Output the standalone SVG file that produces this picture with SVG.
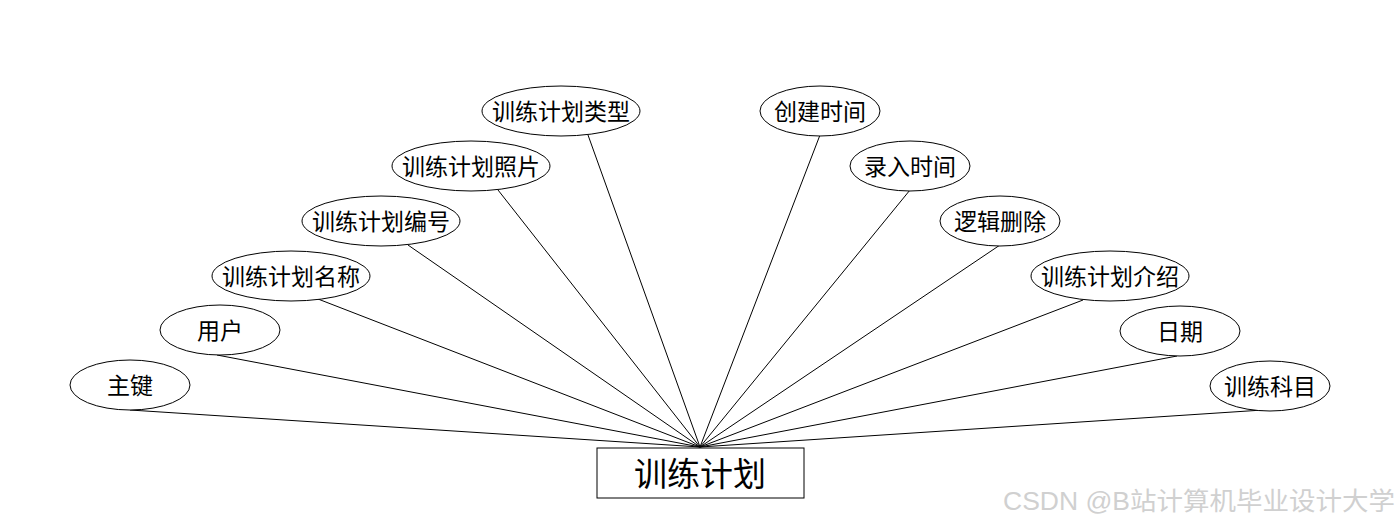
<svg xmlns="http://www.w3.org/2000/svg" width="1400" height="528" viewBox="0 0 1400 528">
<style>
.e{fill:#fff;stroke:#000;stroke-width:1}
.t{font-family:"Microsoft YaHei","Noto Sans CJK SC",sans-serif;font-size:23px;fill:#000;text-anchor:middle;dominant-baseline:central}
.c line{stroke:#000;stroke-width:1}
</style>
<rect width="1400" height="528" fill="#fff"/>
<g class="c" id="connectors">
<line x1="130" y1="410" x2="700" y2="447"/>
<line x1="217" y1="355" x2="700" y2="447"/>
<line x1="318" y1="299" x2="700" y2="447"/>
<line x1="408" y1="245" x2="700" y2="447"/>
<line x1="498" y1="190" x2="700" y2="447"/>
<line x1="588" y1="135" x2="700" y2="447"/>
<line x1="820" y1="135" x2="700" y2="447"/>
<line x1="910" y1="190" x2="700" y2="447"/>
<line x1="1000" y1="245" x2="700" y2="447"/>
<line x1="1083" y1="300" x2="700" y2="447"/>
<line x1="1177" y1="356" x2="700" y2="447"/>
<line x1="1263" y1="410" x2="700" y2="447"/>
</g>
<g id="n-zhujian"><ellipse class="e" cx="130" cy="385" rx="60" ry="25"/><text class="t" x="130" y="384">主键</text></g>
<g id="n-yonghu"><ellipse class="e" cx="220" cy="330" rx="60" ry="25"/><text class="t" x="220" y="329">用户</text></g>
<g id="n-mingcheng"><ellipse class="e" cx="291" cy="276" rx="79" ry="25"/><text class="t" x="291" y="275">训练计划名称</text></g>
<g id="n-bianhao"><ellipse class="e" cx="381" cy="221" rx="79" ry="25"/><text class="t" x="381" y="220">训练计划编号</text></g>
<g id="n-zhaopian"><ellipse class="e" cx="471" cy="166" rx="79" ry="25"/><text class="t" x="471" y="165">训练计划照片</text></g>
<g id="n-leixing"><ellipse class="e" cx="561" cy="111" rx="79" ry="25"/><text class="t" x="561" y="110">训练计划类型</text></g>
<g id="n-chuangjian"><ellipse class="e" cx="820" cy="111" rx="60" ry="25"/><text class="t" x="820" y="110">创建时间</text></g>
<g id="n-luru"><ellipse class="e" cx="910" cy="166" rx="60" ry="25"/><text class="t" x="910" y="165">录入时间</text></g>
<g id="n-luoji"><ellipse class="e" cx="1000" cy="221" rx="60" ry="25"/><text class="t" x="1000" y="220">逻辑删除</text></g>
<g id="n-jieshao"><ellipse class="e" cx="1110" cy="276" rx="79" ry="25"/><text class="t" x="1110" y="275">训练计划介绍</text></g>
<g id="n-riqi"><ellipse class="e" cx="1180" cy="331" rx="60" ry="25"/><text class="t" x="1180" y="330">日期</text></g>
<g id="n-kemu"><ellipse class="e" cx="1270" cy="386" rx="60" ry="25"/><text class="t" x="1270" y="385">训练科目</text></g>
<g id="n-main"><rect x="597" y="448" width="207" height="50" fill="#fff" stroke="#000" stroke-width="1"/><text class="t" x="700" y="472" style="font-size:33px">训练计划</text></g>
<text x="1003" y="510" textLength="392" lengthAdjust="spacingAndGlyphs" style="font-family:'Liberation Sans','Noto Sans CJK SC',sans-serif;font-size:25px;fill:#d0d0d0">CSDN @B站计算机毕业设计大学</text>
</svg>
